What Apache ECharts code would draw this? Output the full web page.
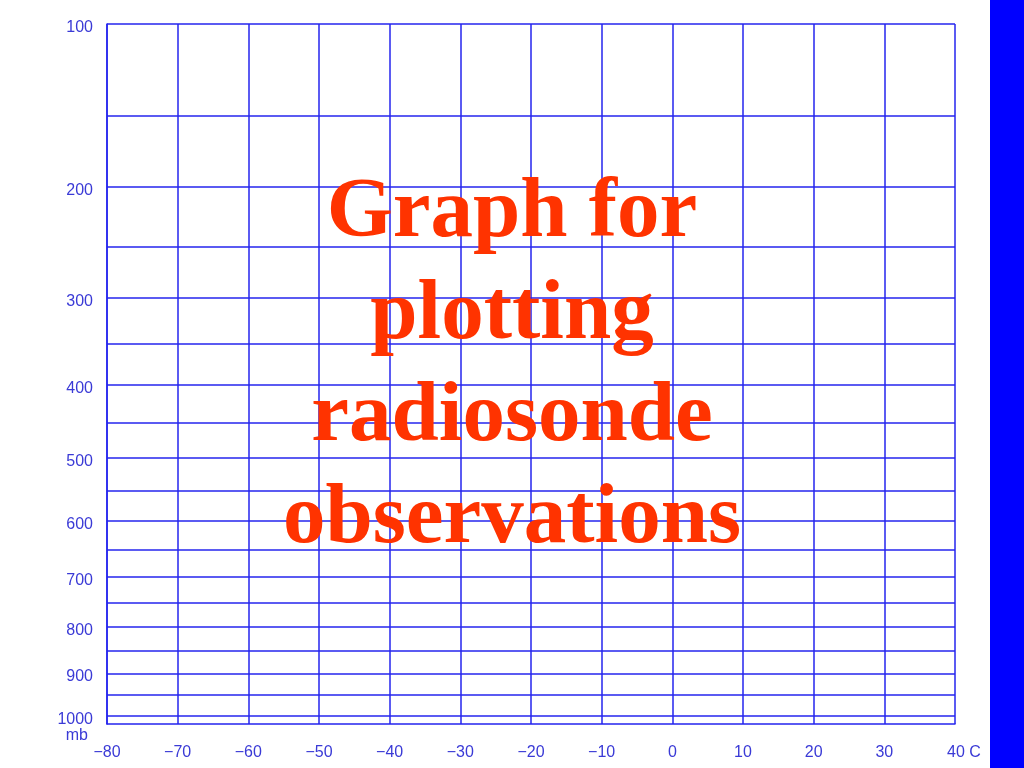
<!DOCTYPE html>
<html>
<head>
<meta charset="utf-8">
<script src="https://cdn.jsdelivr.net/npm/echarts@6/dist/echarts.min.js"></script>
<style>
html,body{margin:0;padding:0;background:#fff;}
#chart{width:1024px;height:768px;}
</style>
</head>
<body>
<div id="chart"></div>
<script>
// Pressure (mb) levels with labels, and all horizontal grid levels
const pressureLabels = [100, 200, 300, 400, 500, 600, 700, 800, 900, 1000];
const pressureLines = [100, 150, 200, 250, 300, 350, 400, 450, 500, 550, 600, 650, 700, 750, 800, 850, 900, 950, 1000];
const pressureRange = [100, 1020];
// Temperature axis (C)
const temperatureTicks = [-80, -70, -60, -50, -40, -30, -20, -10, 0, 10, 20, 30, 40];
const titleLines = ['Graph for', 'plotting', 'radiosonde', 'observations'];

const KAPPA = 0.286;
const toY = p => Math.pow(p, KAPPA);
const fromY = v => Math.round(Math.pow(v, 1 / KAPPA));

const chart = echarts.init(document.getElementById('chart'));
const labelColor = '#3a3ad6';
const lineColor = '#2424ee';
const labelFont = { color: labelColor, fontFamily: 'Liberation Sans', fontSize: 16 };

chart.setOption({
  backgroundColor: '#ffffff',
  animation: false,
  grid: { left: 107, right: 69, top: 24, bottom: 44, containLabel: false },
  xAxis: {
    type: 'value',
    min: temperatureTicks[0],
    max: temperatureTicks[temperatureTicks.length - 1],
    interval: 10,
    axisLine: { show: true, onZero: false, lineStyle: { color: lineColor, width: 1.5 } },
    axisTick: { show: false },
    splitLine: { show: true, lineStyle: { color: lineColor, width: 1.5 } },
    axisLabel: Object.assign({}, labelFont, {
      margin: 21,
      formatter: v => {
        if (v === temperatureTicks[temperatureTicks.length - 1]) return '{c|' + v + ' C}';
        return v < 0 ? '\u2212' + Math.abs(v) : String(v);
      },
      rich: { c: Object.assign({}, labelFont, { padding: [0, 0, 0, 18] }) }
    })
  },
  yAxis: {
    type: 'value',
    inverse: true,
    min: toY(pressureRange[0]),
    max: toY(pressureRange[1]),
    name: 'mb',
    nameLocation: 'end',
    nameGap: 12,
    nameTextStyle: Object.assign({}, labelFont, { align: 'right', verticalAlign: 'middle', padding: [0, 19, 0, 0] }),
    axisLine: { show: true, onZero: false, lineStyle: { color: lineColor, width: 1.5 } },
    axisTick: { show: false, customValues: pressureLines.map(toY) },
    splitLine: { show: true, lineStyle: { color: lineColor, width: 1.5 } },
    axisLabel: Object.assign({}, labelFont, {
      margin: 14,
      verticalAlign: 'top',
      lineHeight: 7,
      customValues: pressureLabels.map(toY),
      formatter: v => String(fromY(v))
    })
  },
  series: [{ type: 'line', data: [], silent: true }],
  graphic: [
    {
      type: 'rect',
      right: 0, top: 0,
      shape: { width: 34, height: 768 },
      style: { fill: '#0000ff' },
      z: 10
    },
    {
      type: 'text',
      left: 'center',
      top: 163,
      style: {
        text: titleLines.join('\n'),
        fontFamily: 'Liberation Serif',
        fontWeight: 'bold',
        fontSize: 85,
        lineHeight: 102,
        fill: '#ff3300',
        textAlign: 'center'
      },
      z: 20
    }
  ]
});
</script>
</body>
</html>
